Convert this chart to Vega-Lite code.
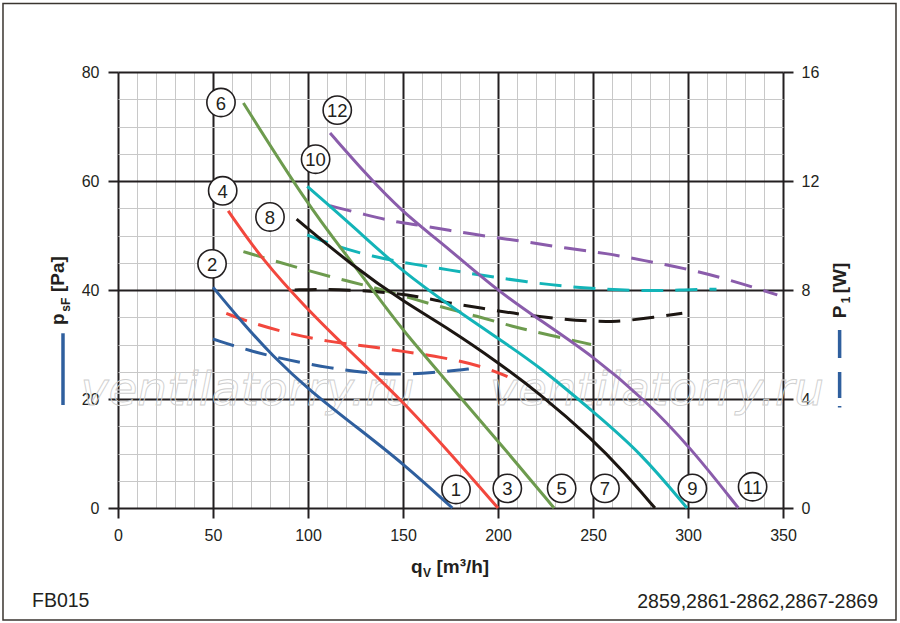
{
  "$schema": "https://vega.github.io/schema/vega-lite/v6.json",
  "width": 665,
  "height": 436,
  "autosize": "none",
  "padding": {"left": 118, "top": 72, "right": 117, "bottom": 115},
  "background": "white",
  "config": {
    "view": {"stroke": null},
    "font": "Liberation Sans",
    "axis": {"labelFont": "Liberation Sans", "labelColor": "#231f20", "labelFontSize": 16, "labelFlush": false, "tickColor": "#231f20", "tickWidth": 2, "tickSize": 10}
  },
  "datasets": {
    "pressure": [
      {"curve": "1/2", "q": 50, "p": 40.5}, {"curve": "1/2", "q": 66, "p": 33.8}, {"curve": "1/2", "q": 81, "p": 28.0}, {"curve": "1/2", "q": 101, "p": 21.5}, {"curve": "1/2", "q": 125, "p": 15.0}, {"curve": "1/2", "q": 150, "p": 8.2}, {"curve": "1/2", "q": 176, "p": 0},
      {"curve": "3/4", "q": 58, "p": 54.5}, {"curve": "3/4", "q": 76, "p": 45.5}, {"curve": "3/4", "q": 99.3, "p": 36.6}, {"curve": "3/4", "q": 117, "p": 30.5}, {"curve": "3/4", "q": 129, "p": 26.5}, {"curve": "3/4", "q": 150, "p": 19.5}, {"curve": "3/4", "q": 175, "p": 10}, {"curve": "3/4", "q": 200, "p": 0},
      {"curve": "5/6", "q": 66, "p": 74.3}, {"curve": "5/6", "q": 99.3, "p": 55.9}, {"curve": "5/6", "q": 120.4, "p": 46.3}, {"curve": "5/6", "q": 141.4, "p": 36.6}, {"curve": "5/6", "q": 150.2, "p": 32.5}, {"curve": "5/6", "q": 175, "p": 22.4}, {"curve": "5/6", "q": 200, "p": 12.3}, {"curve": "5/6", "q": 229.5, "p": 0},
      {"curve": "7/8", "q": 94, "p": 53}, {"curve": "7/8", "q": 124, "p": 44.3}, {"curve": "7/8", "q": 150, "p": 37.9}, {"curve": "7/8", "q": 175, "p": 32.7}, {"curve": "7/8", "q": 200, "p": 26.7}, {"curve": "7/8", "q": 222, "p": 21}, {"curve": "7/8", "q": 250, "p": 12.5}, {"curve": "7/8", "q": 266, "p": 6.7}, {"curve": "7/8", "q": 282.6, "p": 0},
      {"curve": "9/10", "q": 99.6, "p": 59}, {"curve": "9/10", "q": 124, "p": 51.6}, {"curve": "9/10", "q": 148.4, "p": 43.7}, {"curve": "9/10", "q": 178, "p": 36.3}, {"curve": "9/10", "q": 201, "p": 30.9}, {"curve": "9/10", "q": 222, "p": 25.9}, {"curve": "9/10", "q": 250, "p": 17.7}, {"curve": "9/10", "q": 275, "p": 10.2}, {"curve": "9/10", "q": 299.5, "p": 0},
      {"curve": "11/12", "q": 111.6, "p": 68.8}, {"curve": "11/12", "q": 131, "p": 61.1}, {"curve": "11/12", "q": 148.4, "p": 54.7}, {"curve": "11/12", "q": 175, "p": 47.3}, {"curve": "11/12", "q": 199.3, "p": 40}, {"curve": "11/12", "q": 222, "p": 34.5}, {"curve": "11/12", "q": 250.2, "p": 27.8}, {"curve": "11/12", "q": 276.5, "p": 20.1}, {"curve": "11/12", "q": 301, "p": 11.25}, {"curve": "11/12", "q": 326.5, "p": 0}
    ],
    "power": [
      {"curve": "1/2", "q": 50, "w": 6.2}, {"curve": "1/2", "q": 70, "w": 5.75}, {"curve": "1/2", "q": 90, "w": 5.42}, {"curve": "1/2", "q": 112, "w": 5.13}, {"curve": "1/2", "q": 130, "w": 4.97}, {"curve": "1/2", "q": 145, "w": 4.9}, {"curve": "1/2", "q": 165, "w": 4.95}, {"curve": "1/2", "q": 188, "w": 5.13},
      {"curve": "3/4", "q": 57, "w": 7.14}, {"curve": "3/4", "q": 70, "w": 6.8}, {"curve": "3/4", "q": 90, "w": 6.4}, {"curve": "3/4", "q": 111, "w": 6.1}, {"curve": "3/4", "q": 131, "w": 5.94}, {"curve": "3/4", "q": 151, "w": 5.74}, {"curve": "3/4", "q": 171, "w": 5.53}, {"curve": "3/4", "q": 192, "w": 5.2}, {"curve": "3/4", "q": 205, "w": 4.82},
      {"curve": "5/6", "q": 66, "w": 9.41}, {"curve": "5/6", "q": 78, "w": 9.16}, {"curve": "5/6", "q": 99, "w": 8.73}, {"curve": "5/6", "q": 120, "w": 8.34}, {"curve": "5/6", "q": 140, "w": 8.0}, {"curve": "5/6", "q": 166, "w": 7.45}, {"curve": "5/6", "q": 187, "w": 7.08}, {"curve": "5/6", "q": 208, "w": 6.65}, {"curve": "5/6", "q": 227, "w": 6.35}, {"curve": "5/6", "q": 249, "w": 6.0},
      {"curve": "7/8", "q": 93, "w": 8.0}, {"curve": "7/8", "q": 107, "w": 8.03}, {"curve": "7/8", "q": 124, "w": 8.0}, {"curve": "7/8", "q": 143, "w": 7.9}, {"curve": "7/8", "q": 157, "w": 7.78}, {"curve": "7/8", "q": 175, "w": 7.51}, {"curve": "7/8", "q": 190, "w": 7.35}, {"curve": "7/8", "q": 211, "w": 7.11}, {"curve": "7/8", "q": 232, "w": 6.94}, {"curve": "7/8", "q": 252, "w": 6.84}, {"curve": "7/8", "q": 262, "w": 6.84}, {"curve": "7/8", "q": 275, "w": 6.93}, {"curve": "7/8", "q": 297, "w": 7.15},
      {"curve": "9/10", "q": 99.6, "w": 10.02}, {"curve": "9/10", "q": 113, "w": 9.65}, {"curve": "9/10", "q": 134, "w": 9.22}, {"curve": "9/10", "q": 155, "w": 8.95}, {"curve": "9/10", "q": 175, "w": 8.73}, {"curve": "9/10", "q": 194, "w": 8.51}, {"curve": "9/10", "q": 215, "w": 8.3}, {"curve": "9/10", "q": 236, "w": 8.12}, {"curve": "9/10", "q": 257, "w": 8.03}, {"curve": "9/10", "q": 278, "w": 7.96}, {"curve": "9/10", "q": 295, "w": 8.0}, {"curve": "9/10", "q": 315, "w": 8.03},
      {"curve": "11/12", "q": 111.6, "w": 11.09}, {"curve": "11/12", "q": 131, "w": 10.75}, {"curve": "11/12", "q": 145, "w": 10.51}, {"curve": "11/12", "q": 155, "w": 10.42}, {"curve": "11/12", "q": 174, "w": 10.19}, {"curve": "11/12", "q": 195, "w": 9.96}, {"curve": "11/12", "q": 215, "w": 9.77}, {"curve": "11/12", "q": 236, "w": 9.53}, {"curve": "11/12", "q": 257, "w": 9.35}, {"curve": "11/12", "q": 277, "w": 9.08}, {"curve": "11/12", "q": 298, "w": 8.8}, {"curve": "11/12", "q": 319, "w": 8.43}, {"curve": "11/12", "q": 339, "w": 8.0}, {"curve": "11/12", "q": 347, "w": 7.82}
    ],
    "labels": [
      {"n": "1", "q": 177.9, "p": 3.4}, {"n": "3", "q": 204.9, "p": 3.6}, {"n": "5", "q": 233.5, "p": 3.6}, {"n": "7", "q": 256.3, "p": 3.6}, {"n": "9", "q": 302.3, "p": 3.6}, {"n": "11", "q": 334, "p": 3.9},
      {"n": "2", "q": 49.5, "p": 44.8}, {"n": "4", "q": 55.1, "p": 58.2}, {"n": "6", "q": 54.2, "p": 74.4}, {"n": "8", "q": 80.0, "p": 53.4}, {"n": "10", "q": 104.0, "p": 64.0}, {"n": "12", "q": 115.4, "p": 73.0}
    ],
    "watermark": [
      {"t": "ventilatorry.ru", "q": 68.2, "p": 18.9},
      {"t": "ventilatorry.ru", "q": 283.7, "p": 18.9}
    ],
    "titleH": [
      {"t": "q", "q": 154.2, "p": -11.93},
      {"t": "[m³/h]", "q": 167.6, "p": -11.93}
    ],
    "titleHSub": [
      {"t": "V", "q": 160.5, "p": -12.66}
    ],
    "titleV": [
      {"t": "p", "q": -28.42, "p": 33.58},
      {"t": "[Pa]", "q": -28.42, "p": 39.63},
      {"t": "P", "q": 383.16, "p": 34.8},
      {"t": "[W]", "q": 383.16, "p": 39.4}
    ],
    "titleVSub": [
      {"t": "sF", "q": -25.26, "p": 36.02},
      {"t": "1", "q": 385.3, "p": 37.56}
    ]
  },
  "resolve": {"scale": {"y": "independent"}, "axis": {"x": "independent", "y": "independent"}},
  "layer": [
    {
      "data": {"name": "pressure"},
      "mark": {"type": "point", "opacity": 0},
      "encoding": {
        "x": {"field": "q", "type": "quantitative", "scale": {"domain": [0, 350], "nice": false},
          "axis": {"orient": "bottom", "values": [10, 20, 30, 40, 60, 70, 80, 90, 110, 120, 130, 140, 160, 170, 180, 190, 210, 220, 230, 240, 260, 270, 280, 290, 310, 320, 330, 340],
            "grid": true, "gridColor": "#c8c8c8", "gridWidth": 1, "domain": false, "ticks": false, "labels": false, "title": null}},
        "y": {"field": "p", "type": "quantitative", "scale": {"domain": [0, 80], "nice": false},
          "axis": {"orient": "left", "values": [5, 10, 15, 25, 30, 35, 45, 50, 55, 65, 70, 75],
            "grid": true, "gridColor": "#c8c8c8", "gridWidth": 1, "domain": false, "ticks": false, "labels": false, "title": null}}
      }
    },
    {
      "data": {"name": "pressure"},
      "mark": {"type": "point", "opacity": 0},
      "encoding": {
        "x": {"field": "q", "type": "quantitative", "scale": {"domain": [0, 350], "nice": false},
          "axis": {"orient": "bottom", "values": [0, 50, 100, 150, 200, 250, 300, 350],
            "grid": true, "gridColor": "#231f20", "gridWidth": 2, "domain": false, "ticks": true, "labels": true, "labelPadding": 9, "title": null}},
        "y": {"field": "p", "type": "quantitative", "scale": {"domain": [0, 80], "nice": false},
          "axis": {"orient": "left", "values": [0, 20, 40, 60, 80],
            "grid": true, "gridColor": "#231f20", "gridWidth": 2, "domain": false, "ticks": true, "labels": true, "labelPadding": 9, "title": null}}
      }
    },
    {
      "data": {"name": "watermark"},
      "mark": {"type": "text", "font": "DejaVu Sans", "fontStyle": "italic", "fontSize": 47, "align": "center", "baseline": "alphabetic",
        "fill": "white", "fillOpacity": 0, "stroke": "#cfcfcf", "strokeWidth": 0.9},
      "encoding": {
        "x": {"field": "q", "type": "quantitative", "axis": null},
        "y": {"field": "p", "type": "quantitative", "scale": {"domain": [0, 80], "nice": false}, "axis": null},
        "text": {"field": "t"}
      }
    },
    {
      "data": {"name": "power"},
      "mark": {"type": "line", "strokeWidth": 3, "strokeDash": [22, 12], "interpolate": "basis"},
      "encoding": {
        "x": {"field": "q", "type": "quantitative", "axis": null},
        "y": {"field": "w", "type": "quantitative", "scale": {"domain": [0, 16], "nice": false},
          "axis": {"orient": "right", "values": [0, 4, 8, 12, 16], "grid": false, "domain": false, "ticks": true, "labels": true, "labelPadding": 8, "title": null}},
        "color": {"field": "curve", "type": "nominal",
          "scale": {"domain": ["1/2", "3/4", "5/6", "7/8", "9/10", "11/12"], "range": ["#2f5f9e", "#f2473d", "#6d9b4e", "#1c1612", "#13b4b8", "#8a5cab"]},
          "legend": null}
      }
    },
    {
      "data": {"name": "pressure"},
      "mark": {"type": "line", "strokeWidth": 3, "interpolate": "basis"},
      "encoding": {
        "x": {"field": "q", "type": "quantitative", "axis": null},
        "y": {"field": "p", "type": "quantitative", "scale": {"domain": [0, 80], "nice": false}, "axis": null},
        "color": {"field": "curve", "type": "nominal", "legend": null}
      }
    },
    {
      "data": {"name": "labels"},
      "mark": {"type": "point", "shape": "circle", "size": 800, "filled": true, "fill": "white", "stroke": "#231f20", "strokeWidth": 1.6, "opacity": 1},
      "encoding": {
        "x": {"field": "q", "type": "quantitative", "axis": null},
        "y": {"field": "p", "type": "quantitative", "scale": {"domain": [0, 80], "nice": false}, "axis": null}
      }
    },
    {
      "data": {"name": "labels"},
      "mark": {"type": "text", "fontSize": 18.5, "align": "center", "baseline": "middle", "dy": 1, "color": "#231f20"},
      "encoding": {
        "x": {"field": "q", "type": "quantitative", "axis": null},
        "y": {"field": "p", "type": "quantitative", "scale": {"domain": [0, 80], "nice": false}, "axis": null},
        "text": {"field": "n"}
      }
    },
    {
      "data": {"name": "titleH"},
      "mark": {"type": "text", "fontSize": 19, "fontWeight": "bold", "align": "left", "baseline": "alphabetic", "color": "#231f20"},
      "encoding": {
        "x": {"field": "q", "type": "quantitative", "axis": null},
        "y": {"field": "p", "type": "quantitative", "scale": {"domain": [0, 80], "nice": false}, "axis": null},
        "text": {"field": "t"}
      }
    },
    {
      "data": {"name": "titleHSub"},
      "mark": {"type": "text", "fontSize": 12, "fontWeight": "bold", "align": "left", "baseline": "alphabetic", "color": "#231f20"},
      "encoding": {
        "x": {"field": "q", "type": "quantitative", "axis": null},
        "y": {"field": "p", "type": "quantitative", "scale": {"domain": [0, 80], "nice": false}, "axis": null},
        "text": {"field": "t"}
      }
    },
    {
      "data": {"name": "titleV"},
      "mark": {"type": "text", "fontSize": 19, "fontWeight": "bold", "align": "left", "baseline": "alphabetic", "angle": 270, "color": "#231f20"},
      "encoding": {
        "x": {"field": "q", "type": "quantitative", "axis": null},
        "y": {"field": "p", "type": "quantitative", "scale": {"domain": [0, 80], "nice": false}, "axis": null},
        "text": {"field": "t"}
      }
    },
    {
      "data": {"name": "titleVSub"},
      "mark": {"type": "text", "fontSize": 12, "fontWeight": "bold", "align": "left", "baseline": "alphabetic", "angle": 270, "color": "#231f20"},
      "encoding": {
        "x": {"field": "q", "type": "quantitative", "axis": null},
        "y": {"field": "p", "type": "quantitative", "scale": {"domain": [0, 80], "nice": false}, "axis": null},
        "text": {"field": "t"}
      }
    },
    {
      "data": {"values": [{}]},
      "mark": {"type": "text", "fontSize": 19.5, "align": "left", "baseline": "alphabetic", "color": "#231f20", "text": "FB015"},
      "encoding": {
        "x": {"datum": -45.26, "type": "quantitative", "axis": null},
        "y": {"datum": -18.17, "type": "quantitative", "scale": {"domain": [0, 80], "nice": false}, "axis": null}
      }
    },
    {
      "data": {"values": [{}]},
      "mark": {"type": "text", "fontSize": 19.5, "align": "right", "baseline": "alphabetic", "color": "#231f20", "text": "2859,2861-2862,2867-2869"},
      "encoding": {
        "x": {"datum": 400, "type": "quantitative", "axis": null},
        "y": {"datum": -18.4, "type": "quantitative", "scale": {"domain": [0, 80], "nice": false}, "axis": null}
      }
    },
    {
      "data": {"values": [{}]},
      "mark": {"type": "rule", "color": "#2f5f9e", "strokeWidth": 3.5},
      "encoding": {
        "x": {"datum": -28.95, "type": "quantitative", "axis": null},
        "y": {"datum": 32.06, "type": "quantitative", "scale": {"domain": [0, 80], "nice": false}, "axis": null},
        "y2": {"datum": 18.9}
      }
    },
    {
      "data": {"values": [{}]},
      "mark": {"type": "rule", "color": "#2f5f9e", "strokeWidth": 3.5, "strokeDash": [28, 14, 26, 8, 2.5, 100]},
      "encoding": {
        "x": {"datum": 379.8, "type": "quantitative", "axis": null},
        "y": {"datum": 32.66, "type": "quantitative", "scale": {"domain": [0, 80], "nice": false}, "axis": null},
        "y2": {"datum": 18.44}
      }
    },
    {
      "data": {"values": [{}]},
      "mark": {"type": "rect", "filled": false, "stroke": "#3a3530", "strokeWidth": 1.5},
      "encoding": {
        "x": {"datum": -60.53, "type": "quantitative", "axis": null},
        "x2": {"datum": 409.47},
        "y": {"datum": 92.57, "type": "quantitative", "scale": {"domain": [0, 80], "nice": false}, "axis": null},
        "y2": {"datum": -20.55}
      }
    }
  ]
}
